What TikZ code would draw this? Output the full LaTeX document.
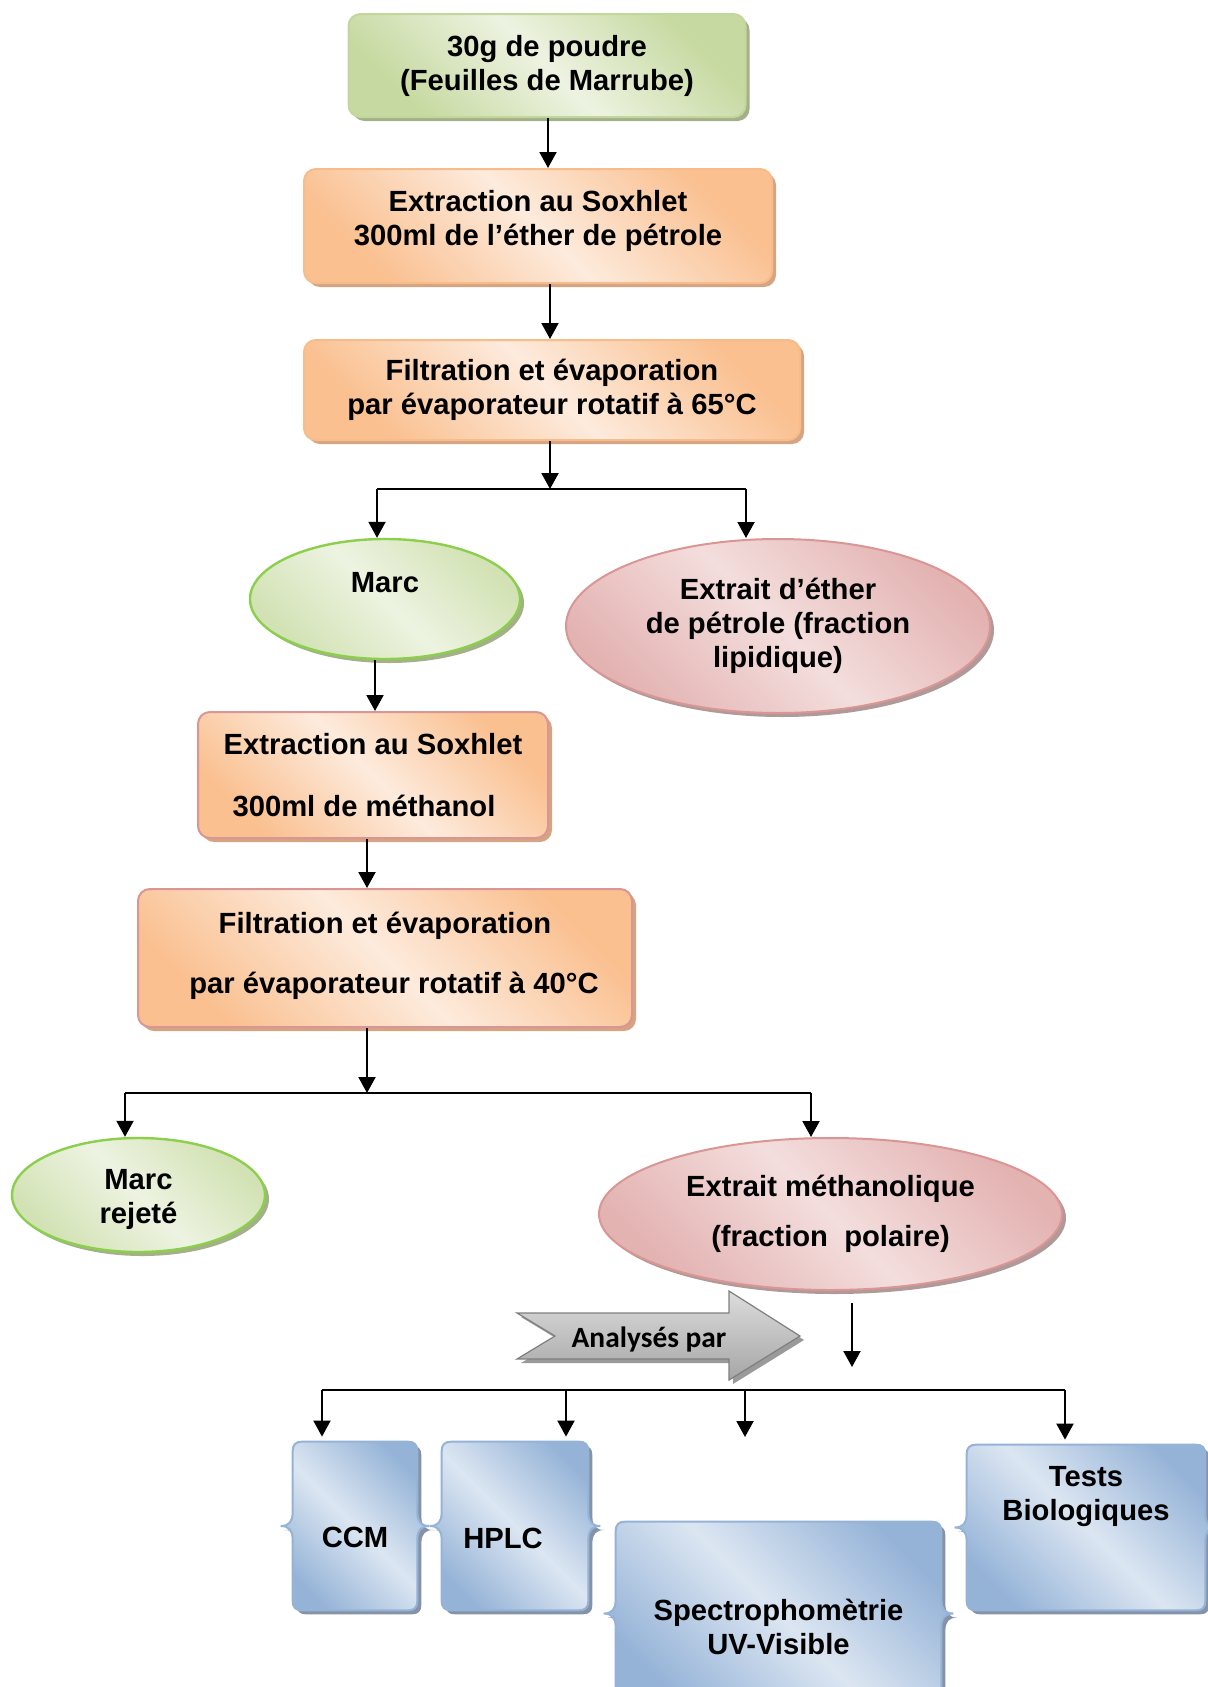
\documentclass[tikz,border=0pt]{standalone}
\usepackage{fontspec}
\setmainfont{Liberation Sans}
\newfontfamily\calib{Carlito}
\usetikzlibrary{arrows.meta,shapes.geometric,shadows,calc}
\pgfdeclarelayer{background}
\pgfsetlayers{background,main}
\definecolor{gA}{HTML}{EDF3E1}
\definecolor{gB}{HTML}{C6D9A0}
\definecolor{gBorder}{HTML}{C3D69B}
\definecolor{gShadow}{HTML}{A3B088}
\definecolor{mBorder}{HTML}{8CCF4D}
\definecolor{mB}{HTML}{D2E2B4}
\definecolor{oA}{HTML}{FDEBDD}
\definecolor{oB}{HTML}{FAC090}
\definecolor{oBorder}{HTML}{F8BC8A}
\definecolor{oShadow}{HTML}{D5A482}
\definecolor{pBorder}{HTML}{D99694}
\definecolor{pA}{HTML}{F3DEDD}
\definecolor{pB}{HTML}{E3B3B2}
\definecolor{pShadow}{HTML}{B09A99}
\definecolor{bA}{HTML}{DCE6F2}
\definecolor{bB}{HTML}{95B3D7}
\definecolor{bBorder}{HTML}{95B3D7}
\definecolor{bShadow}{HTML}{8593A8}
\definecolor{grA}{HTML}{DCDCDC}
\definecolor{grB}{HTML}{A6A6A6}
\definecolor{grBorder}{HTML}{7F7F7F}
\definecolor{grShadow}{HTML}{9A9A9A}
\tikzset{
  base/.style={align=center, inner sep=0pt},
  arr/.style={line width=1pt, -{Triangle[length=8pt,width=8.5pt]}},
  ln/.style={line width=1pt},
  gbox/.style={base, rectangle, rounded corners=6pt, draw=gBorder, line width=1pt,
    left color=gB, right color=gB, middle color=gA, shading angle=135,
    drop shadow={shadow xshift=2pt,shadow yshift=-2pt,fill=gShadow,opacity=1}},
  obox/.style={base, rectangle, rounded corners=6pt, draw=oBorder, line width=1pt,
    left color=oB, right color=oB, middle color=oA, shading angle=135,
    drop shadow={shadow xshift=2pt,shadow yshift=-2pt,fill=oShadow,opacity=1}},
  opbox/.style={obox, draw=pBorder},
  gell/.style={base, ellipse, draw=mBorder, line width=1.2pt,
    left color=mB, right color=mB, middle color=gA, shading angle=135,
    drop shadow={shadow xshift=2pt,shadow yshift=-2pt,fill=gShadow,opacity=1}},
  pell/.style={base, ellipse, draw=pBorder, line width=1pt,
    left color=pB, right color=pB, middle color=pA, shading angle=135,
    drop shadow={shadow xshift=2pt,shadow yshift=-2pt,fill=pShadow,opacity=1}},
  slot/.style={rectangle, inner sep=0pt},
  bluebox/.style={draw=bBorder, line width=1pt,
    left color=bB, right color=bB, middle color=bA, shading angle=135,
    drop shadow={shadow xshift=2pt,shadow yshift=-2pt,fill=bShadow,opacity=1}},
  grayarrow/.style={draw=grBorder, line width=0.6pt, top color=grA, bottom color=grB,
    drop shadow={shadow xshift=2pt,shadow yshift=-2pt,fill=grShadow,opacity=1}},
}
\newcommand\bracebox[1]{%
\path[bluebox]
 ($(#1.north west)+(10,0)$) -- ($(#1.north east)+(-10,0)$)
 .. controls ($(#1.north east)+(-3,0)$) and ($(#1.north east)+(0,3)$) .. ($(#1.north east)+(0,10)$)
 -- ($(#1.east)+(0,-13)$)
 .. controls ($(#1.east)+(0,-4)$) and ($(#1.east)+(4,0)$) .. ($(#1.east)+(12,0)$)
 .. controls ($(#1.east)+(4,0)$) and ($(#1.east)+(0,4)$) .. ($(#1.east)+(0,13)$)
 -- ($(#1.south east)+(0,-10)$)
 .. controls ($(#1.south east)+(0,-3)$) and ($(#1.south east)+(-3,0)$) .. ($(#1.south east)+(-10,0)$)
 -- ($(#1.south west)+(10,0)$)
 .. controls ($(#1.south west)+(3,0)$) and ($(#1.south west)+(0,-3)$) .. ($(#1.south west)+(0,-10)$)
 -- ($(#1.west)+(0,13)$)
 .. controls ($(#1.west)+(0,4)$) and ($(#1.west)+(-4,0)$) .. ($(#1.west)+(-12,0)$)
 .. controls ($(#1.west)+(-4,0)$) and ($(#1.west)+(0,-4)$) .. ($(#1.west)+(0,-13)$)
 -- ($(#1.north west)+(0,10)$)
 .. controls ($(#1.north west)+(0,3)$) and ($(#1.north west)+(3,0)$) .. ($(#1.north west)+(10,0)$)
 -- cycle;}
\begin{document}
\begin{tikzpicture}[x=0.5pt,y=-0.5pt,font=\fontsize{14.6pt}{17pt}\selectfont\bfseries]
\useasboundingbox (0,0) rectangle (1208,1687);

% main flow
\node[gbox, minimum width=198.5pt, minimum height=51.5pt] (n1) at (547,65.5)
  {30g de poudre\\(Feuilles de Marrube)};
\node[obox, minimum width=234pt, minimum height=57pt] (n2) at (538,226)
  {Extraction au Soxhlet\\300ml de l’éther de pétrole\rule[-8pt]{0pt}{0pt}};
\node[obox, minimum width=248pt, minimum height=50pt] (n3) at (552,390)
  {Filtration et évaporation\\par évaporateur rotatif à 65°C};
\node[gell, minimum width=135pt, minimum height=60pt] (marc) at (385,599)
  {Marc\rule[-17pt]{0pt}{0pt}};
\node[pell, minimum width=212pt, minimum height=87pt] (ether) at (778,626)
  {Extrait d’éther\\de pétrole (fraction\\lipidique)};
\node[opbox, minimum width=175pt, minimum height=63pt] (n4) at (373,775)
  {Extraction au Soxhlet\\[14pt]300ml de méthanol\hspace*{9pt}};
\node[opbox, minimum width=247pt, minimum height=69pt] (n5) at (385,958)
  {Filtration et évaporation\\[13pt]\hspace*{9pt}par évaporateur rotatif à 40°C\rule[-5pt]{0pt}{0pt}};
\node[gell, minimum width=126.5pt, minimum height=57pt] (rejete) at (138.5,1195)
  {\rule{0pt}{15pt}Marc\\rejeté};
\node[pell, minimum width=231.5pt, minimum height=76pt] (meth) at (830.5,1214)
  {Extrait méthanolique\\[8pt](fraction~ polaire)};

% "Analysés par" arrow
\path[grayarrow] (517,1313) -- (729,1313) -- (729,1291) -- (800,1336) -- (729,1380)
  -- (729,1359) -- (517,1359) -- (555,1336) -- cycle;
\node[font=\calib\bfseries\fontsize{14.7pt}{17pt}\selectfont] (anal) at (649,1339) {Analysés par};

% bottom boxes
\node[slot, minimum width=62pt, minimum height=84pt,
  label={[yshift=-5.5pt]center:CCM}] (ccm) at (355,1526) {};
\node[slot, minimum width=73pt, minimum height=84pt,
  label={[xshift=-6pt,yshift=-6pt]center:HPLC}] (hplc) at (515,1526) {};
\node[slot, minimum width=162.5pt, minimum height=91.5pt,
  label={[align=center,yshift=-6.75pt]center:{Spectrophomètrie\\UV-Visible}}] (spectro) at (778.5,1613.5) {};
\node[slot, minimum width=119pt, minimum height=82.5pt,
  label={[align=center,yshift=15.25pt]center:{Tests\\Biologiques}}] (tests) at (1086,1527.5) {};

\begin{pgfonlayer}{background}
\bracebox{ccm}
\bracebox{hplc}
\bracebox{spectro}
\bracebox{tests}
\end{pgfonlayer}

% coordinates for junctions
\coordinate (j1) at (550,489);
\coordinate (j1L) at (377,489);
\coordinate (j1R) at (746,489);
\coordinate (j2) at (367,1093);
\coordinate (j2L) at (125,1093);
\coordinate (j2R) at (811,1093);
\coordinate (f1) at (852,1303);
\coordinate (f2) at (852,1367);
\coordinate (j3L) at (322,1390);
\coordinate (j3H) at (566,1390);
\coordinate (j3S) at (745,1390);
\coordinate (j3R) at (1065,1390);
\coordinate (s3) at (745,1437);

% connectors
\draw[arr] (n1.south -| 548,0) -- (n2.north -| 548,0);
\draw[arr] ([xshift=6pt]n2.south) -- ([xshift=6pt]n2.south |- n3.north);
\draw[arr] (n3.south -| j1) -- (j1);
\draw[ln] (j1L) -- (j1R);
\draw[arr] (j1L) -- (j1L |- marc.north);
\draw[arr] (j1R) -- (j1R |- ether.north);
\draw[arr] ([xshift=-5pt]marc.south) -- ([xshift=-5pt]marc.south |- n4.north);
\draw[arr] ([xshift=-3pt]n4.south) -- ([xshift=-3pt]n4.south |- n5.north);
\draw[arr] (n5.south -| j2) -- (j2);
\draw[ln] (j2L) -- (j2R);
\draw[arr] (j2L) -- (j2L |- rejete.north);
\draw[arr] (j2R) -- (j2R |- meth.north);
\draw[arr] (f1) -- (f2);
\draw[ln] (j3L) -- (j3R);
\draw[arr, shorten >=2.5pt] (j3L) -- (j3L |- ccm.north);
\draw[arr, shorten >=2.5pt] (j3H) -- (j3H |- hplc.north);
\draw[arr] (j3S) -- (s3);
\draw[arr, shorten >=2.5pt] (j3R) -- (j3R |- tests.north);
\end{tikzpicture}
\end{document}
